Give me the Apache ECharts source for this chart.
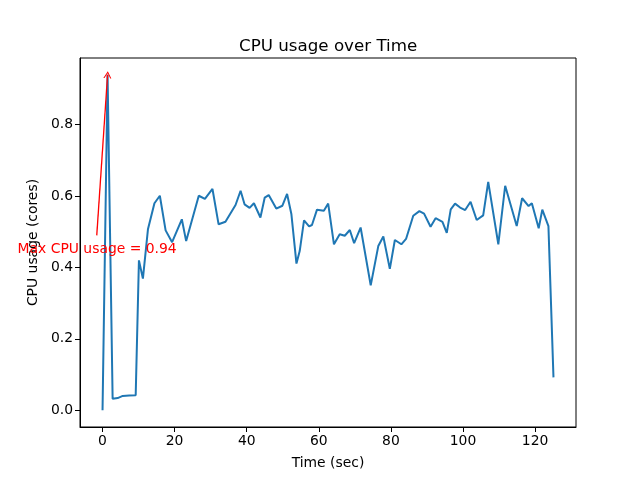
<!DOCTYPE html>
<html>
<head>
<meta charset="utf-8">
<script src="https://cdn.jsdelivr.net/npm/echarts@6/dist/echarts.min.js"></script>
<style>html,body{margin:0;padding:0;background:#fff;}#c{width:640px;height:480px;}</style>
</head>
<body>
<div id="c"></div>
<script>
var times = [0,1.4,2.8,4.2,5.6,7.4,9.2,10.1,11.2,12.6,14.4,15.9,17.5,19.3,22.0,23.2,26.7,28.4,30.5,32.2,34.1,36.9,38.3,39.4,40.8,42.0,43.8,45.0,46.1,48.2,49.9,51.2,52.4,53.8,54.7,55.9,57.3,58.1,59.5,61.4,62.6,64.2,65.8,67.2,68.6,69.8,71.6,74.4,76.5,77.9,79.7,81.1,82.9,84.2,86.2,87.9,89.2,91.0,92.4,94.3,95.5,96.6,97.8,99.2,100.6,102.1,103.8,105.6,107.0,109.8,111.7,114.9,116.4,118.2,119.1,121.0,122.0,123.7,125.1];
var cpu = [0,0.94,0.032,0.034,0.04,0.041,0.042,0.42,0.369,0.507,0.58,0.601,0.504,0.471,0.535,0.474,0.601,0.592,0.62,0.521,0.528,0.575,0.615,0.577,0.567,0.58,0.54,0.596,0.603,0.565,0.573,0.606,0.549,0.411,0.446,0.532,0.515,0.519,0.562,0.559,0.579,0.465,0.493,0.489,0.505,0.468,0.512,0.35,0.46,0.487,0.396,0.477,0.465,0.48,0.545,0.558,0.551,0.514,0.538,0.528,0.497,0.563,0.579,0.568,0.561,0.584,0.533,0.546,0.64,0.465,0.629,0.516,0.594,0.572,0.58,0.51,0.562,0.516,0.092];
var xTicks = [0,20,40,60,80,100,120];
var yTicks = [0,0.2,0.4,0.6,0.8];
var maxIdx = 1;
var annotText = 'Max CPU usage = 0.94';
var annotPos = [-1.5, 0.451];
var arrowStart = [-1.6, 0.49];

var data = times.map(function(t,i){return [t,cpu[i]];});
var chart = echarts.init(document.getElementById('c'), null, {renderer:'canvas'});
var font = 'DejaVu Sans';
var fs = 13.9;
chart.setOption({
  animation:false,
  textStyle:{fontFamily:font},
  title:{text:'CPU usage over Time', left:234, top:33,
    textStyle:{fontFamily:font, fontSize:16.7, fontWeight:'normal', color:'#000'}},
  grid:{left:80, right:64, top:58, bottom:53, show:true, borderColor:'#000', borderWidth:1, backgroundColor:'transparent'},
  xAxis:{type:'value', min:-6.25, max:131.35,
    name:'Time (sec)', nameLocation:'middle', nameGap:29,
    nameTextStyle:{fontFamily:font, fontSize:fs, color:'#000'},
    axisLine:{show:true, onZero:false, lineStyle:{color:'#000', width:1}},
    axisTick:{show:true, length:5, customValues:xTicks, lineStyle:{color:'#000'}},
    axisLabel:{customValues:xTicks, color:'#000', fontSize:fs, fontFamily:font, margin:7},
    splitLine:{show:false}},
  yAxis:{type:'value', min:-0.047, max:0.987,
    name:'CPU usage (cores)', nameLocation:'middle', nameGap:39, nameRotate:90,
    nameTextStyle:{fontFamily:font, fontSize:fs, color:'#000'},
    axisLine:{show:true, onZero:false, lineStyle:{color:'#000', width:1}},
    axisTick:{show:true, length:5, customValues:yTicks, lineStyle:{color:'#000'}},
    axisLabel:{customValues:yTicks, color:'#000', fontSize:fs, fontFamily:font, margin:7,
      formatter:function(v){return v.toFixed(1);}},
    splitLine:{show:false}},
  series:[{
    type:'line', data:data, showSymbol:false, symbol:'none',
    lineStyle:{color:'#1f77b4', width:2}, clip:false,
    markLine:{silent:true, animation:false,
      symbol:['none','path://M5,0 L10,10 L8.6,10 L5,2.8 L1.4,10 L0,10 Z'], symbolSize:[8,7],
      lineStyle:{color:'red', width:1.3, type:'solid'}, label:{show:false},
      data:[[{coord:arrowStart},{coord:[times[maxIdx], cpu[maxIdx]]}]]},
    markPoint:{silent:true, animation:false,
      data:[{coord:annotPos, symbol:'circle', symbolSize:0,
        label:{show:true, position:'inside', formatter:annotText, color:'red', fontSize:fs, fontFamily:font}}]}
  }]
});
</script>
</body>
</html>
